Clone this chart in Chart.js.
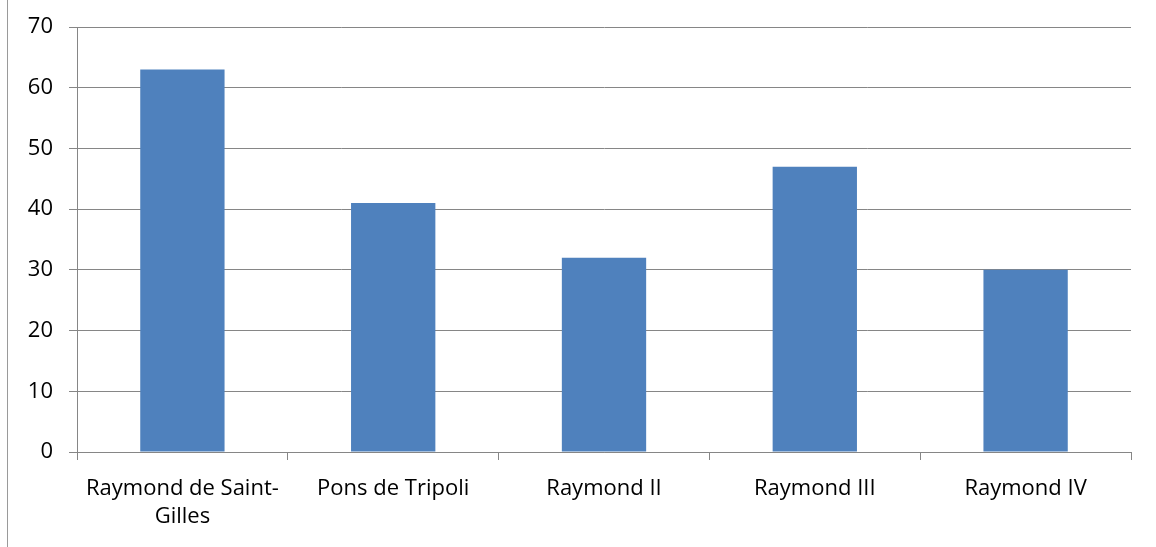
<!DOCTYPE html>
<html>
<head>
<meta charset="utf-8">
<script src="https://cdn.jsdelivr.net/npm/chart.js@4/dist/chart.umd.min.js"></script>
<style>
  html, body { margin: 0; padding: 0; background: #fff; }
  #wrap { position: relative; width: 1156px; height: 547px; }
  #edge { position: absolute; left: 7px; top: 0; width: 1px; height: 547px; background: #9a9a9a; }
  canvas { position: absolute; left: 0; top: 0; }
</style>
</head>
<body>
<div id="wrap">
  <canvas id="c" width="1156" height="547"></canvas>
  <div id="edge"></div>
</div>
<script>
const categories = [['Raymond de Saint-', 'Gilles'], 'Pons de Tripoli', 'Raymond II', 'Raymond III', 'Raymond IV'];
const values = [63, 41, 32, 47, 30];
const yTicks = [0, 10, 20, 30, 40, 50, 60, 70];

const gridColor = '#868686';
const xFont = { family: "'Open Sans', 'Noto Sans', sans-serif", size: 22, lineHeight: 1.3 };
const yFont = { family: "'Open Sans', 'Noto Sans', sans-serif", size: 22, lineHeight: 1.0 };

new Chart(document.getElementById('c'), {
  type: 'bar',
  data: {
    labels: categories,
    datasets: [{
      data: values,
      backgroundColor: '#4F81BD',
      borderWidth: 0,
      categoryPercentage: 1.0,
      barPercentage: 0.4
    }]
  },
  options: {
    responsive: false,
    animation: false,
    devicePixelRatio: 1,
    layout: { padding: { left: 0, right: 25, top: 27, bottom: 0 } },
    plugins: { legend: { display: false }, tooltip: { enabled: false } },
    scales: {
      x: {
        offset: true,
        grid: { offset: true, drawOnChartArea: false, drawTicks: true, tickLength: 8, color: gridColor, lineWidth: 1 },
        border: { display: true, color: gridColor, width: 1 },
        ticks: { font: xFont, color: '#000', padding: 14, maxRotation: 0, autoSkip: false },
        afterFit: s => { s.height = 95; }
      },
      y: {
        min: 0, max: 70,
        afterBuildTicks: s => { s.ticks = yTicks.map(v => ({ value: v })); },
        grid: { color: gridColor, lineWidth: 1, tickLength: 8, drawTicks: true },
        border: { display: true, color: gridColor, width: 1 },
        ticks: { font: yFont, color: '#000', padding: 16 },
        afterFit: s => { s.width = 77; s.paddingTop = 0; s.paddingBottom = 0; }
      }
    }
  }
});
</script>
</body>
</html>
